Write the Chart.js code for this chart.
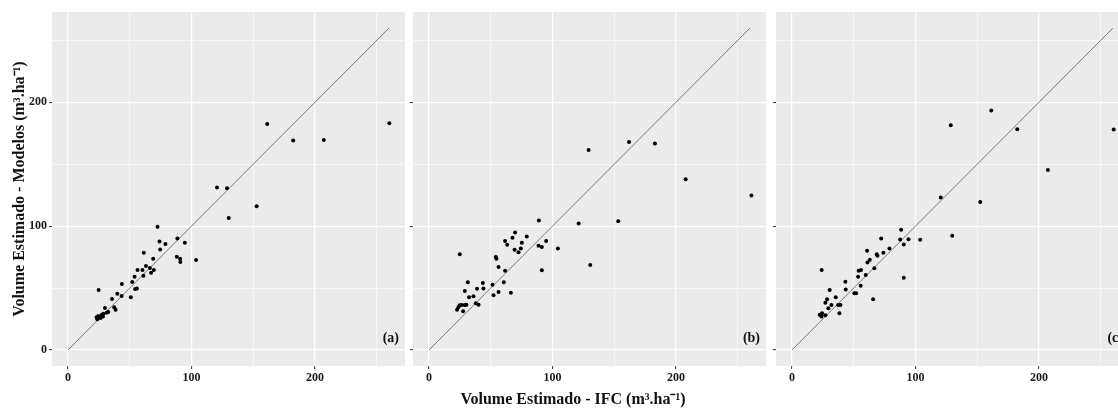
<!DOCTYPE html>
<html>
<head>
<meta charset="utf-8">
<script src="https://cdn.jsdelivr.net/npm/chart.js@4.4.1/dist/chart.umd.min.js"></script>
<style>
  html, body { margin:0; padding:0; background:#ffffff; overflow:hidden; }
  #wrap { position:relative; width:1140px; height:408px; }
  canvas { position:absolute; top:0; }
  .title { position:absolute; font-family:'Liberation Serif', 'Times New Roman', serif; font-weight:bold; font-size:16px; color:#111; white-space:nowrap; text-align:center; line-height:20px; }
</style>
</head>
<body>
<div id="wrap">
  <canvas id="pa" width="411" height="408" style="left:0px"></canvas>
  <canvas id="pb" width="367" height="408" style="left:405px"></canvas>
  <canvas id="pc" width="367" height="408" style="left:768px"></canvas>
  <div class="title" id="ytitle" style="left:-181px; top:179px; width:400px; transform:rotate(-90deg);">Volume Estimado - Modelos (m³.ha⁻¹)</div>
  <div class="title" id="xtitle" style="left:373px; top:389px; width:400px;">Volume Estimado - IFC (m³.ha⁻¹)</div>
</div>
<script>
// ---- data (IFC volume vs. model estimate, m³/ha) ----
const ifcA = [161.4,182.4,207.2,260.3,120.7,128.8,152.8,130.2,72.5,74.1,78.9,88.6,94.6,74.6,61.4,88.1,90.8,91.0,103.7,69.0,63.1,66.3,69.5,56.3,60.3,67.3,61.1,53.9,52.0,43.6,55.8,54.4,24.8,39.9,43.4,35.6,50.9,37.4,38.5,29.9,32.6,31.2,28.5,27.2,24.5,23.1,26.4,23.7,28.3];
const modA = [182.5,169.1,169.6,183.1,131.2,130.6,116.1,106.5,99.5,87.6,85.5,90.1,86.6,81.2,78.5,75.3,73.7,71.0,72.6,73.7,67.7,66.1,64.5,64.5,64.5,62.4,59.9,59.1,54.8,53.2,49.7,49.2,48.4,45.4,43.5,41.1,42.5,34.4,32.5,33.9,30.6,30.1,29.3,28.2,27.4,26.4,25.8,24.8,26.9];

const ifcB = [22.7,23.8,24.9,26.5,27.6,29.0,30.3,29.0,31.4,32.4,36.0,37.9,40.1,38.9,43.6,44.1,51.4,52.2,56.3,54.1,54.6,56.3,60.6,61.6,61.6,63.3,66.3,67.6,69.3,69.7,72.5,74.4,75.2,79.2,89.0,88.7,91.4,91.4,94.9,104.4,121.2,129.3,130.6,153.3,162.0,183.0,207.9,261.2,24.9];
const modB = [32.5,34.4,36.0,36.3,31.2,36.3,36.5,47.6,54.6,42.5,43.3,37.6,36.5,49.4,54.0,49.7,52.7,44.1,46.8,75.0,73.6,66.9,54.6,64.0,87.9,84.9,46.2,90.6,80.9,94.9,78.8,82.0,86.5,91.7,104.6,84.1,83.1,64.3,87.9,82.0,102.2,161.5,68.5,104.0,168.0,166.7,137.9,124.8,77.2];

const ifcC = [22.4,23.8,24.3,27.0,29.4,27.0,28.4,31.9,30.5,35.4,37.3,39.2,38.4,43.2,43.5,50.5,51.9,53.5,54.0,55.9,55.6,59.7,61.1,60.8,63.0,66.7,65.7,68.6,69.2,74.0,78.9,72.2,87.6,88.4,90.5,94.3,90.5,103.8,24.0,120.5,129.8,128.6,152.5,161.4,182.5,207.3,260.6];
const modC = [28.5,26.9,29.6,28.0,33.6,38.2,40.9,36.3,48.4,42.5,36.3,36.3,29.6,55.1,48.9,45.7,45.7,59.1,64.0,64.5,51.9,60.5,70.7,80.1,72.8,65.9,40.9,77.2,76.1,78.5,82.0,90.1,89.3,97.0,85.2,89.5,58.3,89.0,64.5,123.1,92.2,181.5,119.4,193.5,178.2,145.4,178.0];

const lineXY = [0, 260];                 // 1:1 reference line end points
const tickValues = [0, 50, 100, 150, 200, 250];
const labeledTicks = [0, 100, 200];
const panelLabels = ['(a)', '(b)', '(c)'];
const axisMin = -13, axisMax = 273;

const FONT = "'Liberation Serif', 'Times New Roman', serif";

const panelDeco = {
  id: 'panelDeco',
  beforeDraw(chart) {
    const {ctx, chartArea: a} = chart;
    ctx.save();
    ctx.fillStyle = '#EBEBEB';
    ctx.fillRect(a.left, a.top, a.right - a.left, a.bottom - a.top);
    ctx.restore();
  },
  afterDraw(chart, args, opts) {
    const {ctx, chartArea: a} = chart;
    ctx.save();
    ctx.font = 'bold 14px ' + FONT;
    ctx.fillStyle = '#111';
    ctx.textAlign = 'right';
    ctx.textBaseline = 'middle';
    ctx.fillText(opts.label, a.right - 6, a.bottom - 28);
    ctx.restore();
  }
};

function gridOpts() {
  return {
    color: '#FFFFFF',
    lineWidth: c => (c.tick && c.tick.value % 100 === 0) ? 1.2 : 0.6,
    tickColor: c => (c.tick && c.tick.value % 100 === 0) ? '#333333' : 'rgba(0,0,0,0)',
    tickLength: 3,
    tickWidth: 1,
    drawTicks: true
  };
}

function makePanel(id, xs, ys, label, yWidth, showYLabels) {
  const pts = xs.map((x, i) => ({x: x, y: ys[i]}));
  const line = lineXY.map(v => ({x: v, y: v}));
  return new Chart(document.getElementById(id), {
    type: 'scatter',
    data: {
      datasets: [
        { data: pts, backgroundColor: '#000', borderColor: '#000', pointRadius: 2, pointBorderWidth: 0, order: 0 },
        { data: line, showLine: true, borderColor: '#7a7a7a', borderWidth: 1, pointRadius: 0, order: 1 }
      ]
    },
    options: {
      responsive: false,
      animation: false,
      devicePixelRatio: 1,
      layout: { padding: { top: 12, right: 6, left: 0, bottom: 0 } },
      plugins: { legend: { display: false }, tooltip: { enabled: false }, panelDeco: { label: label } },
      scales: {
        x: {
          type: 'linear', min: axisMin, max: axisMax,
          afterBuildTicks: s => { s.ticks = tickValues.map(v => ({value: v})); },
          afterFit: s => { s.height = 42; },
          ticks: { callback: v => labeledTicks.includes(v) ? String(v) : '', font: {family: FONT, size: 12, weight: 'bold'}, color: '#1a1a1a', padding: 2, maxRotation: 0, autoSkip: false },
          grid: gridOpts(),
          border: { display: false }
        },
        y: {
          type: 'linear', min: axisMin, max: axisMax,
          afterBuildTicks: s => { s.ticks = tickValues.map(v => ({value: v})); },
          afterFit: s => { s.width = yWidth; },
          ticks: { callback: v => (showYLabels && labeledTicks.includes(v)) ? String(v) : '', font: {family: FONT, size: 12, weight: 'bold'}, color: '#1a1a1a', padding: 2, autoSkip: false },
          grid: gridOpts(),
          border: { display: false }
        }
      }
    },
    plugins: [panelDeco]
  });
}

makePanel('pa', ifcA, modA, panelLabels[0], 52, true);
makePanel('pb', ifcB, modB, panelLabels[1], 8, false);
makePanel('pc', ifcC, modC, panelLabels[2], 8, false);
</script>
</body>
</html>
